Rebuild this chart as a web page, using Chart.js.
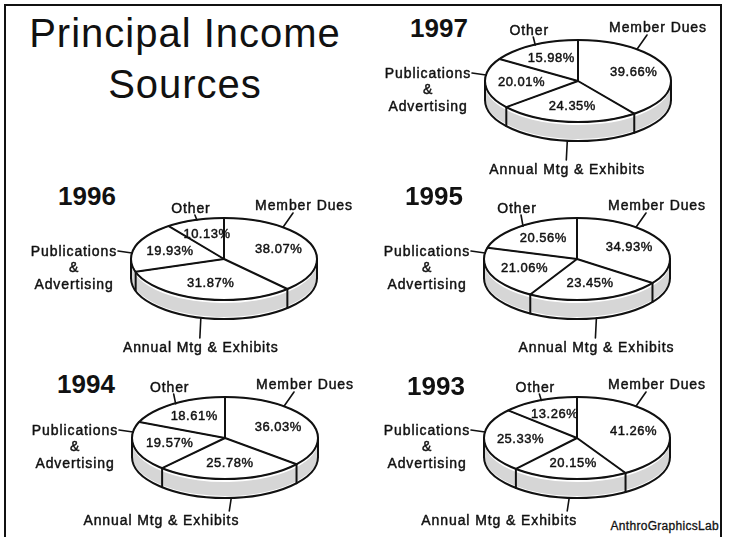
<!DOCTYPE html>
<html>
<head>
<meta charset="utf-8">
<script src="https://cdn.jsdelivr.net/npm/chart.js@4.4.1/dist/chart.umd.min.js"></script>
<style>
  html, body { margin: 0; padding: 0; background: #fff; width: 729px; height: 537px; overflow: hidden; }
  body { position: relative; font-family: "Liberation Sans", Arial, Helvetica, sans-serif; color: #111; }
  .frame { position: absolute; left: 4px; top: 4px; width: 714px; height: 600px; border: 2px solid #111; border-bottom: none; }
  .title { position: absolute; left: 0; top: 8px; width: 370px; text-align: center; font-size: 40px; line-height: 51px; letter-spacing: 1px; }
  .year { position: absolute; font-weight: bold; font-size: 26px; line-height: 26px; }
  .credit { position: absolute; right: 10px; top: 520px; font-size: 12px; line-height: 12px; letter-spacing: 0.3px; -webkit-text-stroke: 0.3px #111; }
  canvas { position: absolute; display: block; }
</style>
</head>
<body>
<div class="frame"></div>
<div class="title">Principal Income<br>Sources</div>
<div class="credit">AnthroGraphicsLab</div>

<script>
// categories in drawing order (clockwise from 12 o'clock)
const categories = ['Member Dues', 'Annual Mtg & Exhibits', 'Publications & Advertising', 'Other'];
const years = ['1997', '1996', '1995', '1994', '1993'];

// percent shares per year, same order as categories
const share1997 = [39.66, 24.35, 20.01, 15.98];
const share1996 = [38.07, 31.87, 19.93, 10.13];
const share1995 = [34.93, 23.45, 21.06, 20.56];
const share1994 = [36.03, 25.78, 19.57, 18.61];
const share1993 = [41.26, 20.15, 25.33, 13.26];

// where each pie sits on the page
const panels = [
  { year: years[0], values: share1997, cx: 578, cy: 81,  yearX: 410, yearY: 15,  annualAlign: 'center' },
  { year: years[1], values: share1996, cx: 224, cy: 259, yearX: 58,  yearY: 183, annualAlign: 'center' },
  { year: years[2], values: share1995, cx: 577, cy: 259, yearX: 405, yearY: 183, annualAlign: 'center' },
  { year: years[3], values: share1994, cx: 225, cy: 438, yearX: 57,  yearY: 371, annualAlign: 'right' },
  { year: years[4], values: share1993, cx: 577, cy: 438, yearX: 407, yearY: 373, annualAlign: 'right' }
];

const RX = 93;
const SQUASH = 41 / 93;
const DEPTH = 19;
const TAU = Math.PI * 2;
const INK = '#111';
const SIDE_GREY = '#d6d6d6';
const FONT = '"Liberation Sans", Arial, Helvetica, sans-serif';
const CW = 400, CH = 220;

function bandPath(ctx, cx, cy, r, ry, lo, hi, top, bottom) {
  ctx.beginPath();
  ctx.ellipse(cx, cy + top, r, ry, 0, lo, hi);
  ctx.ellipse(cx, cy + bottom, r, ry, 0, hi, lo, true);
  ctx.closePath();
}

function line(ctx, x1, y1, x2, y2) {
  ctx.beginPath();
  ctx.moveTo(x1, y1);
  ctx.lineTo(x2, y2);
  ctx.stroke();
}

// text a touch heavier, like the scanned original
function text(ctx, s, x, y) {
  ctx.fillText(s, x, y);
  ctx.save();
  ctx.lineWidth = 0.45;
  ctx.strokeText(s, x, y);
  ctx.restore();
}

// draws the pie as a tilted disc: side band first, squashed top, then outlines + labels
const pie3d = {
  id: 'pie3d',
  beforeDatasetsDraw(chart) {
    const ctx = chart.ctx;
    const arcs = chart.getDatasetMeta(0).data;
    const cx = arcs[0].x, cy = arcs[0].y, r = arcs[0].outerRadius, ry = r * SQUASH;

    ctx.save();
    arcs.forEach(a => {
      const lo = Math.max(a.startAngle, 0);
      const hi = Math.min(a.endAngle, Math.PI);
      if (hi - lo < 0.001) return;
      bandPath(ctx, cx, cy, r, ry, lo, hi, 0, DEPTH);
      ctx.fillStyle = '#fff';
      ctx.fill();
      bandPath(ctx, cx, cy, r, ry, lo, hi, 3, DEPTH - 2);
      ctx.fillStyle = SIDE_GREY;
      ctx.fill();
    });
    ctx.restore();

    ctx.save();
    ctx.translate(cx, cy);
    ctx.scale(1, SQUASH);
    ctx.translate(-cx, -cy);
  },
  afterDatasetsDraw(chart, args, opts) {
    const ctx = chart.ctx;
    ctx.restore();

    const arcs = chart.getDatasetMeta(0).data;
    const values = chart.data.datasets[0].data;
    const cx = arcs[0].x, cy = arcs[0].y, r = arcs[0].outerRadius, ry = r * SQUASH;

    ctx.save();
    ctx.strokeStyle = INK;
    ctx.lineWidth = 2;
    ctx.lineJoin = 'round';
    ctx.lineCap = 'round';

    // bottom edge of the band
    ctx.beginPath();
    ctx.ellipse(cx, cy + DEPTH, r, ry, 0, 0, Math.PI);
    ctx.stroke();

    // vertical edges on the visible side
    const cuts = [0, Math.PI];
    arcs.forEach(a => {
      const s = ((a.startAngle % TAU) + TAU) % TAU;
      if (s > 0.02 && s < Math.PI - 0.02) cuts.push(s);
    });
    cuts.forEach(t => {
      const px = cx + r * Math.cos(t), py = cy + ry * Math.sin(t);
      line(ctx, px, py, px, py + DEPTH);
    });

    // top rim and slice spokes
    ctx.beginPath();
    ctx.ellipse(cx, cy, r, ry, 0, 0, TAU);
    ctx.stroke();
    arcs.forEach(a => {
      line(ctx, cx, cy, cx + r * Math.cos(a.startAngle), cy + ry * Math.sin(a.startAngle));
    });

    // percentages
    ctx.fillStyle = INK;
    ctx.textAlign = 'center';
    ctx.textBaseline = 'middle';
    ctx.font = '13px ' + FONT;
    ctx.letterSpacing = '0.5px';
    arcs.forEach((a, i) => {
      const mid = (a.startAngle + a.endAngle) / 2;
      text(ctx, values[i].toFixed(2) + '%', cx + 0.62 * r * Math.cos(mid) + 1, cy + 0.62 * ry * Math.sin(mid));
    });

    // category labels with leaders
    ctx.font = '14px ' + FONT;
    ctx.letterSpacing = '0.9px';
    ctx.lineWidth = 1.6;

    // Member Dues
    text(ctx, categories[0], cx + 80, cy - 53);
    const mdx = 59;
    line(ctx, cx + 69, cy - 46, cx + mdx, cy - ry * Math.sqrt(1 - (mdx / r) ** 2));

    // Other
    const om = (arcs[3].startAngle + arcs[3].endAngle) / 2;
    const ox = cx + r * Math.cos(om), oy = cy + ry * Math.sin(om);
    text(ctx, categories[3], ox - 4, cy - 50);
    line(ctx, ox, cy - 44, ox + 2, oy);

    // Publications & Advertising
    const pl = ['Publications', '&', 'Advertising'];
    pl.forEach((t, k) => text(ctx, t, cx - 150, cy - 7 + k * 16.5));
    line(ctx, cx - 106, cy - 8, cx - 92, cy - 6);

    // Annual Mtg & Exhibits
    const am = (arcs[1].startAngle + arcs[1].endAngle) / 2;
    const ax = cx + r * Math.cos(am), ay = cy + ry * Math.sin(am) + DEPTH;
    if (opts.annualAlign === 'right') {
      line(ctx, ax, ay, ax - 2, cy + 73);
      ctx.textAlign = 'right';
      text(ctx, categories[1], ax + 8, cy + 83);
    } else {
      line(ctx, ax, ay, ax - 1, cy + 79);
      text(ctx, categories[1], ax, cy + 89);
    }
    ctx.restore();
  }
};

panels.forEach(p => {
  const yr = document.createElement('div');
  yr.className = 'year';
  yr.textContent = p.year;
  yr.style.left = p.yearX + 'px';
  yr.style.top = p.yearY + 'px';
  document.body.appendChild(yr);

  const canvas = document.createElement('canvas');
  canvas.width = CW;
  canvas.height = CH;
  canvas.style.left = (p.cx - CW / 2) + 'px';
  canvas.style.top = (p.cy - CH / 2) + 'px';
  document.body.appendChild(canvas);

  new Chart(canvas, {
    type: 'pie',
    data: {
      labels: categories,
      datasets: [{
        data: p.values,
        backgroundColor: '#fff',
        borderColor: INK,
        borderWidth: 1,
        hoverOffset: 0
      }]
    },
    options: {
      responsive: false,
      animation: false,
      events: [],
      radius: RX,
      layout: { padding: 0 },
      plugins: {
        legend: { display: false },
        tooltip: { enabled: false },
        pie3d: { annualAlign: p.annualAlign }
      }
    },
    plugins: [pie3d]
  });
});
</script>
</body>
</html>
